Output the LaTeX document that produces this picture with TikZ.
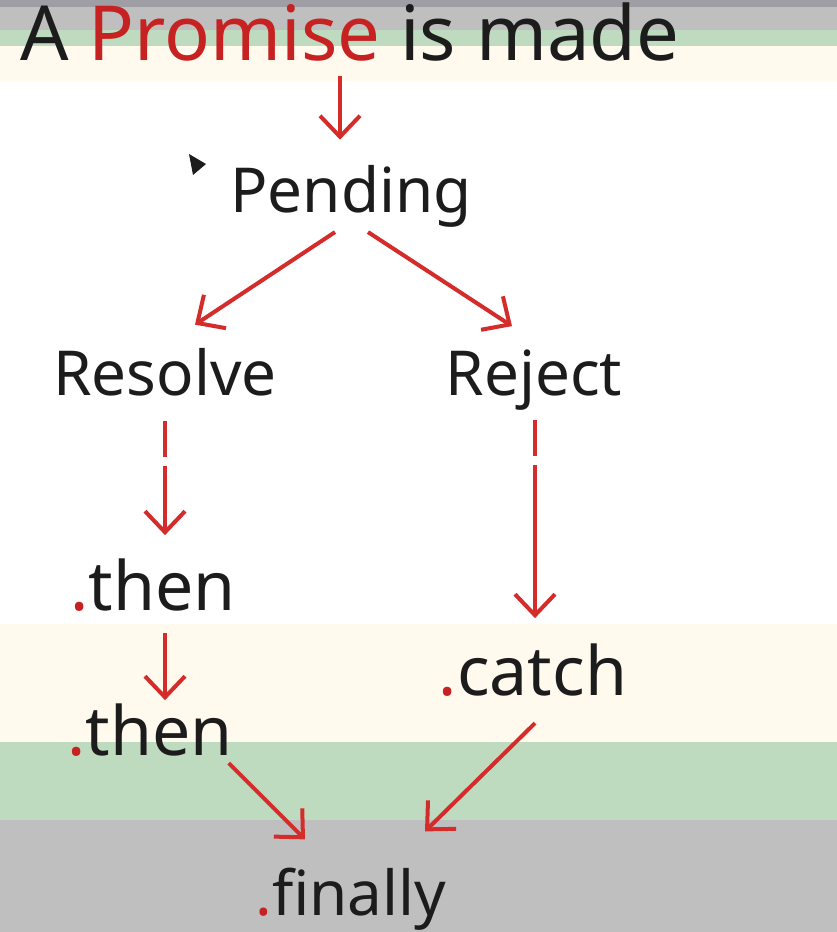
\documentclass[tikz,border=0pt]{standalone}
\usepackage{fontspec}
\setmainfont{Noto Sans}
\usetikzlibrary{arrows.meta,calc}
\definecolor{ink}{HTML}{1C1C1C}
\definecolor{rd}{HTML}{C62222}
\definecolor{ar}{HTML}{D42B2B}
\definecolor{gyd}{HTML}{9F9EA4}
\definecolor{gy}{HTML}{BFBFBF}
\definecolor{gn}{HTML}{BFDBBF}
\definecolor{cr}{HTML}{FFF9EE}
\tikzset{
  lbl/.style={inner sep=0pt,anchor=base,text=ink,font=\fontsize{62}{70}\selectfont},
  big/.style={lbl,font=\fontsize{68}{76}\selectfont},
  flow/.style={-{Straight Barb[length=21pt,width=40pt]},line width=4pt,ar},
  brk/.style={flow,dash pattern=on 36pt off 9pt on 400pt}
}
\newcommand{\dt}{\textcolor{rd}{.}}

\begin{document}
\begin{tikzpicture}[x=1pt,y=-1pt]
% ===================== background bands =====================
\fill[gyd] (0,0) rectangle (837,7);
\fill[gy] (0,7) rectangle (837,30);
\fill[gn] (0,30) rectangle (837,46);
\fill[cr] (0,46) rectangle (837,81);
\fill[white] (0,81) rectangle (837,624);
\fill[cr] (0,624) rectangle (837,742);
\fill[gn] (0,742) rectangle (837,820);
\fill[gy] (0,820) rectangle (837,932);
\fill[ink] (189,154) -- (206,164) -- (193,175) -- cycle;
% ===================== the states =====================
\node[lbl,font=\fontsize{76}{84}\selectfont] (made) at (350,60) {A \textcolor{rd}{Promise} is made};
\node[lbl] (pending) at (351,212) {Pending};
\node[lbl] (resolve) at (165,395) {Resolve};
\node[lbl] (reject) at (534,395) {Reject};
\node[big] (then1) at (153,610) {\dt then};
\node[big] (then2) at (150,755) {\dt then};
\node[big] (catch) at (533,695) {\dt catch};
\node[lbl] (finally) at (351,915) {\dt finally};
% ===================== the arrows =====================
\draw[flow] ($(made.south)+(-10,15)$) -- ($(pending.north)+(-11,-25)$);
\draw[flow] ($(pending.south)+(-16,5)$) -- ($(resolve.north)+(30,-23)$);
\draw[flow] ($(pending.south)+(17,5)$) -- ($(reject.north)+(-22,-23)$);
\draw[brk] ($(resolve.south)+(0,25)$) -- ($(resolve.south |- then1.north)+(0,-23)$);
\draw[brk] ($(reject.south)+(1,10)$) -- ($(reject.south |- catch.north)+(1,-25)$);
\draw[flow] ($(then1.south)+(12,22)$) -- ($(then1.south |- then2.north)+(12,-3)$);
\draw[flow] ($(then2.south east)+(-4,7)$) -- ($(finally.north)+(-46,-28)$);
\draw[flow] ($(catch.south)+(2,27)$) -- ($(finally.north)+(74,-36)$);
\end{tikzpicture}
\end{document}
